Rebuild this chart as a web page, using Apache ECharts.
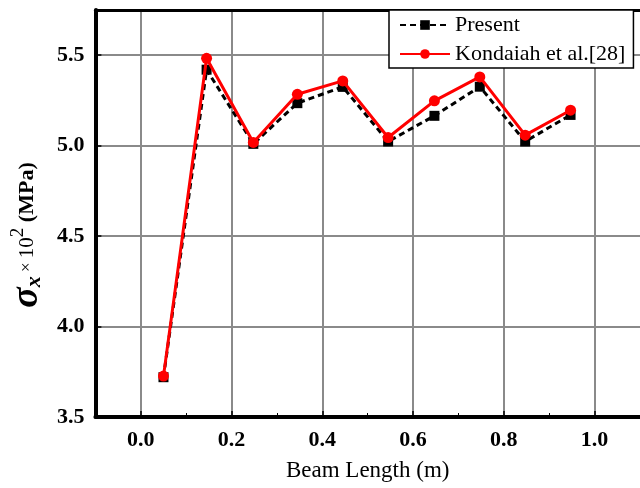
<!DOCTYPE html>
<html>
<head>
<meta charset="utf-8">
<script src="https://cdn.jsdelivr.net/npm/echarts@6/dist/echarts.min.js"></script>
<style>
    html, body { margin: 0; padding: 0; background: #fff; }
    #chart { width: 640px; height: 488px; }
</style>
</head>
<body>
<div id="chart"></div>
<script>
// values
const beamLength = [0.05, 0.145, 0.248, 0.345, 0.445, 0.545, 0.647, 0.747, 0.847, 0.947]
const present = [3.72, 5.42, 5.01, 5.235, 5.325, 5.023, 5.165, 5.326, 5.023, 5.17]
const kondaiah = [3.726, 5.483, 5.018, 5.284, 5.358, 5.045, 5.248, 5.38, 5.058, 5.196]
const seriesNames = ['Present', 'Kondaiah et al.[28]']
const xTicks = [0.0, 0.2, 0.4, 0.6, 0.8, 1.0]
const yTicks = [3.5, 4.0, 4.5, 5.0, 5.5]

const serif = 'Liberation Serif'
const pairs = (xs, ys) => xs.map((x, i) => [x, ys[i]])

const option = {
    animation: false,
    backgroundColor: '#fff',
    grid: {
        left: 93,
        right: 0,
        top: 10,
        bottom: 71
    },
    legend: {
        data: seriesNames,
        orient: 'vertical',
        left: 389,
        top: 10,
        padding: [4, 8, 3, 10],
        itemWidth: 50,
        itemHeight: 12,
        itemGap: 7,
        borderColor: '#000',
        borderWidth: 1.5,
        backgroundColor: '#fff',
        textStyle: {
            fontFamily: serif,
            fontSize: 22,
            color: '#000'
        }
    },
    xAxis: [{
        type: 'value',
        position: 'bottom',
        min: -0.1,
        max: 1.1,
        axisLine: {onZero: false, lineStyle: {color: '#000', width: 4}},
        axisTick: {inside: true, length: 6, customValues: xTicks, lineStyle: {color: '#000', width: 1.5}},
        minorTick: {show: true, splitNumber: 2, length: 4, lineStyle: {color: '#000', width: 1}},
        axisLabel: {
            customValues: xTicks,
            formatter: v => v.toFixed(1),
            fontFamily: serif,
            fontWeight: 'bold',
            fontSize: 22,
            color: '#000',
            margin: 12
        },
        splitLine: {show: true, lineStyle: {color: '#8a8a8a', width: 2}},
        name: 'Beam Length (m)',
        nameLocation: 'middle',
        nameGap: 42,
        nameTextStyle: {fontFamily: serif, fontSize: 23, color: '#000'}
    }, {
        type: 'value',
        position: 'top',
        min: -0.1,
        max: 1.1,
        axisLine: {onZero: false, lineStyle: {color: '#000', width: 3}},
        axisTick: {show: false},
        axisLabel: {show: false},
        splitLine: {show: false}
    }],
    yAxis: {
        type: 'value',
        min: 3.5,
        max: 5.75,
        interval: 0.5,
        axisLine: {show: true, onZero: false, lineStyle: {color: '#000', width: 4}},
        axisTick: {show: true, inside: true, length: 6, lineStyle: {color: '#000', width: 1.5}},
        axisLabel: {
            customValues: yTicks,
            formatter: v => v.toFixed(1),
            fontFamily: serif,
            fontWeight: 'bold',
            fontSize: 22,
            color: '#000',
            margin: 11
        },
        splitLine: {show: true, lineStyle: {color: '#8a8a8a', width: 2}},
        // trailing blank token pushes the title down, as in the reference
        name: '{s|σ}{x|x}{t| × }{d|10}{p|2}{m| (MPa)}{e|}',
        nameLocation: 'middle',
        nameRotate: 90,
        nameGap: 50,
        nameTextStyle: {
            color: '#000',
            rich: {
                s: {fontFamily: serif, fontStyle: 'italic', fontWeight: 'bold', fontSize: 38, lineHeight: 36, verticalAlign: 'middle'},
                x: {fontFamily: serif, fontStyle: 'italic', fontWeight: 'bold', fontSize: 22, lineHeight: 36, verticalAlign: 'bottom'},
                t: {fontFamily: serif, fontSize: 17, lineHeight: 36, verticalAlign: 'middle'},
                d: {fontFamily: serif, fontSize: 21, lineHeight: 36, verticalAlign: 'middle'},
                p: {fontFamily: serif, fontSize: 19, lineHeight: 36, verticalAlign: 'top'},
                m: {fontFamily: serif, fontWeight: 'bold', fontSize: 22, lineHeight: 36, verticalAlign: 'middle'},
                e: {width: 43}
            }
        }
    },
    series: [{
        name: seriesNames[0],
        type: 'line',
        data: pairs(beamLength, present),
        symbol: 'rect',
        symbolSize: 10,
        itemStyle: {color: '#000'},
        lineStyle: {color: '#000', width: 3, type: [6, 4]},
        z: 2
    }, {
        name: seriesNames[1],
        type: 'line',
        data: pairs(beamLength, kondaiah),
        symbol: 'circle',
        symbolSize: 11,
        itemStyle: {color: '#ff0000'},
        lineStyle: {color: '#ff0000', width: 3},
        z: 3
    }]
}

const myChart = echarts.init(document.getElementById('chart'))
myChart.setOption(option)
</script>
</body>
</html>
